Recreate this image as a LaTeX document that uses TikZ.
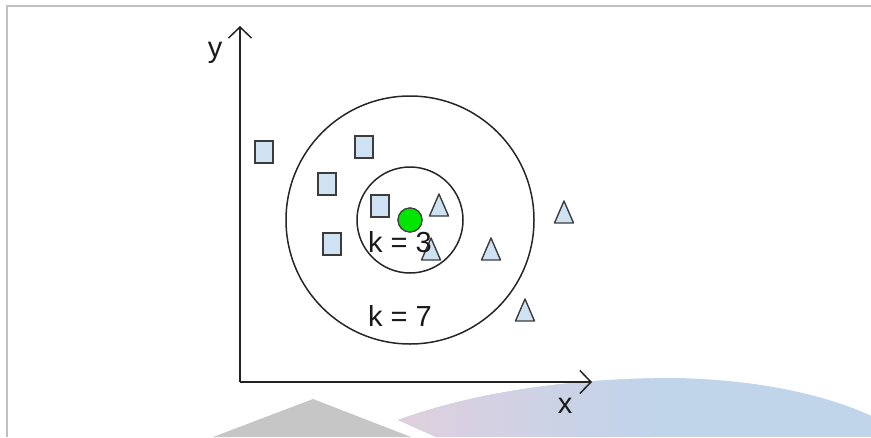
\documentclass[tikz,border=0pt]{standalone}
\usepackage{fontspec}
\setmainfont{Liberation Sans}
\usetikzlibrary{arrows.meta,positioning,calc}
\definecolor{frameGray}{RGB}{192,192,192}
\definecolor{axisGray}{RGB}{35,35,35}
\definecolor{markerBlue}{RGB}{207,226,243}
\definecolor{markerEdge}{RGB}{60,60,60}
\definecolor{dotGreen}{RGB}{0,230,0}
\definecolor{shapeGray}{RGB}{198,198,198}
\definecolor{bandPink}{RGB}{224,207,222}
\definecolor{bandBlue}{RGB}{192,212,234}
\tikzset{
    axis/.style={draw=axisGray, line width=1.5pt, -{Straight Barb[length=11pt, width=23pt, line width=1.5pt]}},
    ring/.style={draw=black!85, line width=1.5pt},
    sqmark/.style={rectangle, draw=markerEdge, fill=markerBlue, line width=1.4pt, minimum width=18pt, minimum height=22pt, inner sep=0pt},
    trimark/.style={draw=markerEdge, fill=markerBlue, line width=1.4pt, line join=round},
    query/.style={circle, draw=black!75, fill=dotGreen, line width=1.2pt, minimum size=24pt, inner sep=0pt},
    lbl/.style={font=\fontsize{29}{34}\selectfont, text=black!90, inner sep=0pt},
}

\begin{document}
\begin{tikzpicture}[x=1pt, y=-1pt]
    \useasboundingbox (0,0) rectangle (871,437);
    % Frame
    \draw[frameGray, line width=1.3pt] (7,437) -- (7,6) -- (871,6);
    % Background shapes at the bottom
    \fill[shapeGray] (213,437) -- (313,399) -- (411,437) -- cycle;
    \begin{scope}
        \clip (436,437) -- (398,420)
            .. controls (480,390) and (580,378) .. (677,378)
            .. controls (760,380) and (830,395) .. (880,420) -- (880,437) -- cycle;
        \fill[bandBlue] (390,370) rectangle (880,437);
        \shade[left color=bandPink, right color=bandBlue] (398,370) rectangle (650,437);
    \end{scope}
    % Axes
    \coordinate (o) at (240,382);
    \coordinate (ytip) at (240,26);
    \coordinate (xtip) at (592,382);
    \draw[axis] (o) -- (ytip);
    \draw[axis] (o) -- (xtip);
    \node[lbl, anchor=base] (ylab) at (215,57) {y};
    \node[lbl, anchor=base] (xlab) at (565,413) {x};
    % Neighbourhoods
    \node[query] (q) at (410,220) {};
    \draw[ring] (q.center) circle [radius=124];
    \draw[ring] (q.center) circle [radius=53];
    % Squares
    \foreach \x/\y [count=\i] in {264/152, 364/147, 327/184, 380/206, 332/244} {
        \node[sqmark] (sq\i) at (\x,\y) {};
    }
    % Triangles
    \foreach \x/\y in {439/205, 431/249, 491/249, 564/212, 525/310} {
        \draw[trimark] (\x-9.5,\y+11) -- (\x,\y-11) -- (\x+9.5,\y+11) -- cycle;
    }
    \node[query] at (q) {};
    % Labels
    \node[lbl, anchor=base] (k3) at (400,252) {k = 3};
    \node[lbl, anchor=base] (k7) at (400,326) {k = 7};
\end{tikzpicture}
\end{document}
